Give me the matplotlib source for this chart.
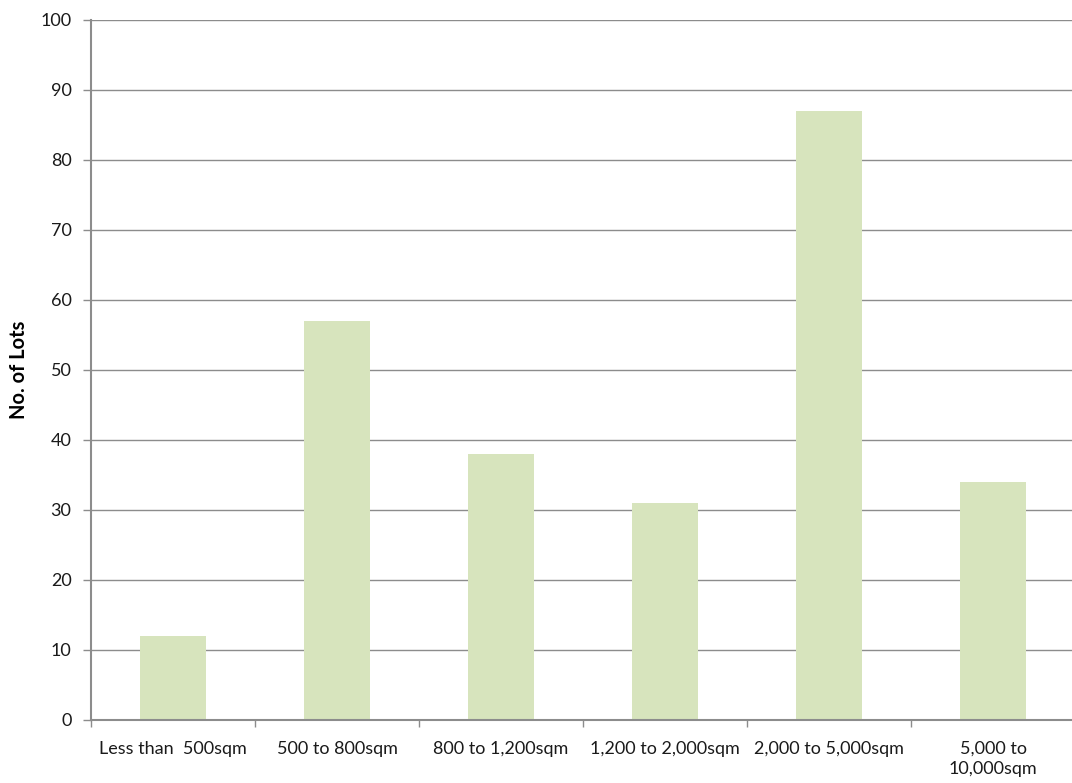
import matplotlib.pyplot as plt
import numpy as np

categories = ["Less than  500sqm", "500 to 800sqm", "800 to 1,200sqm",
              "1,200 to 2,000sqm", "2,000 to 5,000sqm", "5,000 to\n10,000sqm"]
lots = [12, 57, 38, 31, 87, 34]
yticks = list(range(0, 101, 10))

plt.rcParams['font.family'] = ['Lato', 'DejaVu Sans']

fig = plt.figure(figsize=(10.72, 7.83), dpi=100)
ax = fig.add_axes([91 / 1072, 63 / 783, 984 / 1072, 700 / 783])

x = np.arange(len(categories))
ax.bar(x, lots, width=0.4, color='#d7e4bd', zorder=2)

ax.set_xlim(-0.5, len(categories) - 0.5)
ax.set_ylim(0, 100)
ax.set_yticks(yticks)
ax.yaxis.grid(True, color='#8c8c8c', linewidth=1, zorder=0)

# category labels sit between the boundary ticks
ax.set_xticks(x)
ax.set_xticklabels(categories, fontsize=13, color='#1a1a1a', linespacing=1.35)
ax.tick_params(axis='x', length=0, pad=15)
ax.set_xticks(np.arange(len(categories) + 1) - 0.5, minor=True)
ax.tick_params(axis='x', which='minor', length=5, color='#8c8c8c', width=1)
ax.tick_params(axis='y', length=6, color='#8c8c8c', width=1, labelsize=13,
               labelcolor='#1a1a1a', pad=8)

for side in ['top', 'right']:
    ax.spines[side].set_visible(False)
for side in ['left', 'bottom']:
    ax.spines[side].set_color('#8c8c8c')
    ax.spines[side].set_linewidth(1.5)

ax.set_ylabel("No. of Lots", fontsize=14.5, fontweight='bold', labelpad=8)

fig.savefig("out.png", dpi=100, facecolor='white')
